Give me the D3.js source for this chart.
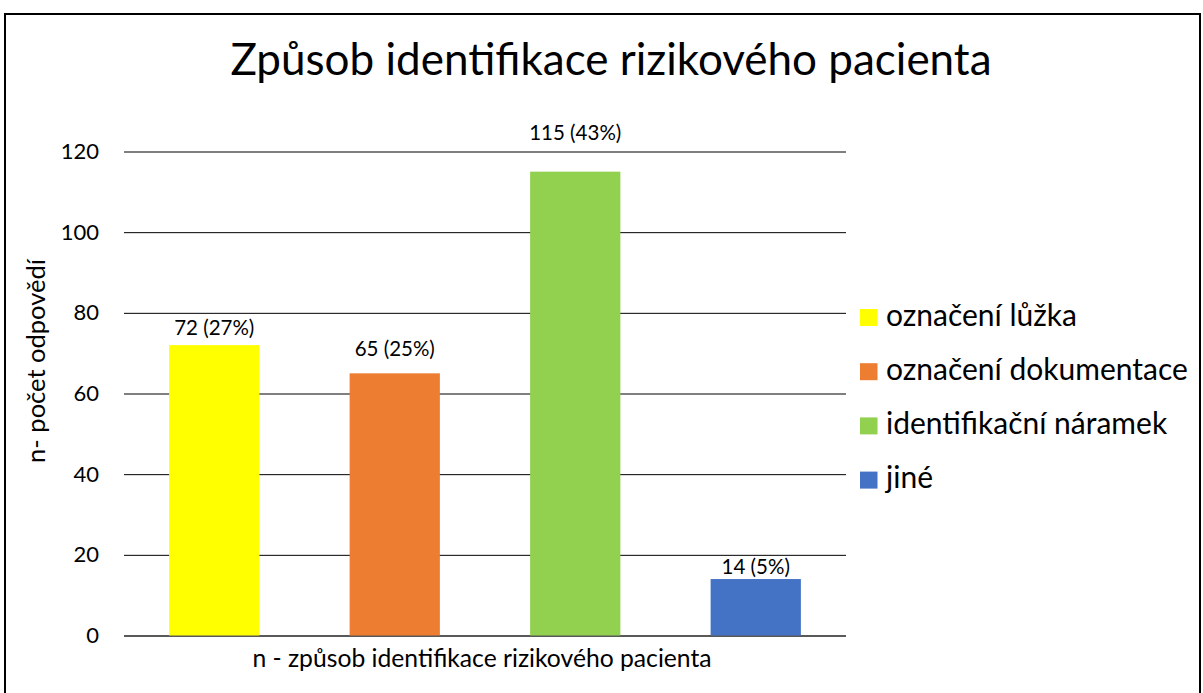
<!DOCTYPE html>
<html><head><meta charset="utf-8">
<script src="https://cdn.jsdelivr.net/npm/d3@7"></script>
<style>body{margin:0;background:#fff}svg{display:block}text{font-family:Lato,"Open Sans",sans-serif;fill:#000}</style>
</head><body>
<script>
const categories = ["označení lůžka","označení dokumentace","identifikační náramek","jiné"];
const values = [72,65,115,14];
const labels = ["72 (27%)","65 (25%)","115 (43%)","14 (5%)"];
const colors = ["#FFFF00","#ED7D31","#92D050","#4472C4"];
const yTicks = [0,20,40,60,80,100,120];
const title = "Způsob identifikace rizikového pacienta";
const yTitle = "n- počet odpovědí";
const xTitle = "n - způsob identifikace rizikového pacienta";

// layout: gap (px) between bar top and label baseline, as placed in the original
const labelGap = [10,17,32,5];

const W=1203,H=693;
const svg=d3.select("body").append("svg").attr("width",W).attr("height",H);
svg.append("rect").attr("x",5).attr("y",14).attr("width",1195).attr("height",700).attr("fill","#fff").attr("stroke","#000").attr("stroke-width",2);

const x=d3.scaleBand().domain(categories).range([124,846]).paddingInner(0.5).paddingOuter(0.25);
const y=d3.scaleLinear().domain([0,120]).range([635.5,151.5]);

svg.append("text").attr("x",611).attr("y",75).attr("text-anchor","middle").style("font-size","44px").text(title);

const ya=svg.append("g").attr("transform","translate(124,0)")
 .call(d3.axisLeft(y).tickValues(yTicks).tickSize(-722).tickPadding(25));
ya.select(".domain").remove();
ya.selectAll(".tick line").attr("stroke",d=>d===0?"#595959":"#000").attr("stroke-width",d=>d===0?2:1);
ya.selectAll(".tick text").style("font-size","22px").attr("fill","#000");

svg.selectAll(".bar").data(values).join("rect").attr("class","bar")
 .attr("x",(d,i)=>x(categories[i])).attr("width",x.bandwidth())
 .attr("y",d=>y(d)).attr("height",d=>y(0)-y(d)).attr("fill",(d,i)=>colors[i]);

svg.selectAll(".lbl").data(values).join("text").attr("class","lbl")
 .attr("x",(d,i)=>x(categories[i])+x.bandwidth()/2).attr("y",(d,i)=>y(d)-labelGap[i])
 .attr("text-anchor","middle").style("font-size","20.5px").text((d,i)=>labels[i]);

svg.append("text").attr("transform","translate(45,361) rotate(-90)").attr("text-anchor","middle").style("font-size","25.5px").text(yTitle);
svg.append("text").attr("x",482).attr("y",667).attr("text-anchor","middle").style("font-size","24.7px").text(xTitle);

const lg=svg.selectAll(".lg").data(categories).join("g").attr("class","lg")
 .attr("transform",(d,i)=>`translate(860,${309+i*54.2})`);
lg.append("rect").attr("x",0).attr("y",0).attr("width",17.5).attr("height",17).attr("fill",(d,i)=>colors[i]);
lg.append("text").attr("x",26).attr("y",16.5).style("font-size","30px").text(d=>d);
</script>
</body></html>
